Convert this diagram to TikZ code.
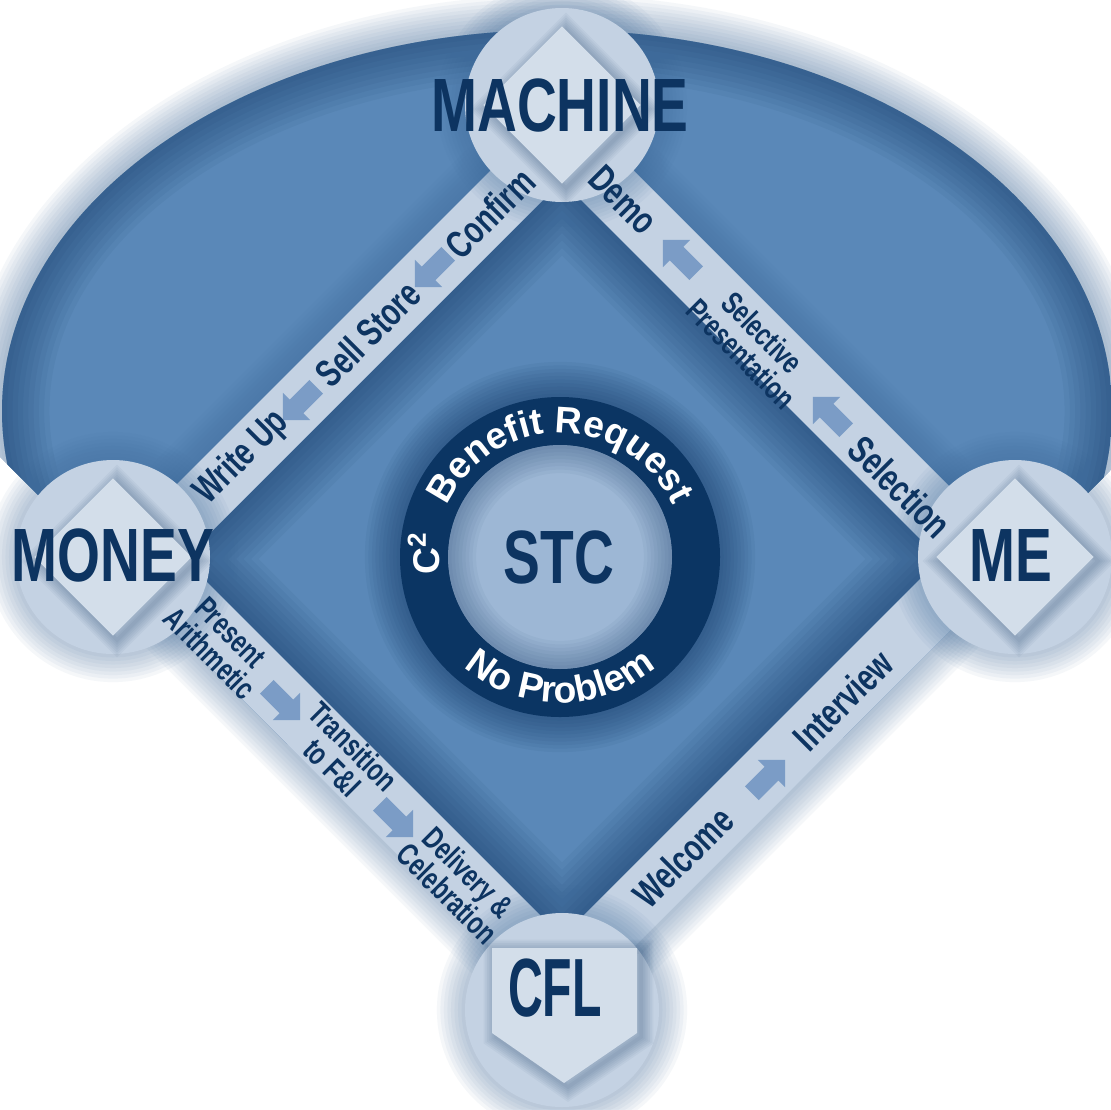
\documentclass[tikz,border=0pt]{standalone}
\usepackage{fontspec}
\setmainfont{Liberation Sans}
\newfontfamily\narrowfont[FakeStretch=0.73]{Liberation Sans}
\usepackage{tikz}
\usetikzlibrary{%
  shapes.arrows,% single arrow
  shapes.geometric,% diamond
  decorations.text% text round the ring
}

\definecolor{fieldblue}{HTML}{5A88B8}
\definecolor{navy}{HTML}{0D3461}
\definecolor{ringnavy}{HTML}{0B3563}
\definecolor{chalk}{HTML}{C4D2E3}
\definecolor{padgray}{HTML}{D3DEEA}
\definecolor{discblue}{HTML}{9DB7D5}
\definecolor{flowblue}{HTML}{7B9CC6}
\definecolor{hazeblue}{HTML}{3E6A9A}

\begin{document}
\begin{tikzpicture}[x=0.1mm, y=0.1mm,
    bigtext/.style={font=\narrowfont\bfseries\fontsize{21.5}{22}\selectfont, text=navy, inner sep=0pt},
    pathtext/.style={font=\narrowfont\bfseries\fontsize{11}{11}\selectfont, text=navy, inner sep=0pt},
    twotext/.style={font=\narrowfont\bfseries\fontsize{9}{8.5}\selectfont, text=navy, align=center, inner sep=0pt},
    flowarrow/.style={single arrow, fill=flowblue, inner sep=0.9mm, minimum height=4.7mm, single arrow head extend=0.95mm},
    basepad/.style={diamond, fill=padgray, minimum size=15.8mm, inner sep=0pt},
    haze/.style={draw=hazeblue, opacity=0.05, line width=#1},
    dusk/.style={draw=navy, opacity=0.045, line width=#1},
    deepdusk/.style={draw=navy, opacity=0.06, line width=#1}
  ]
  \useasboundingbox (0,0) rectangle (1111,1109);
  \fill[white] (0,0) rectangle (1111,1109);

  % base paths, outer and inner corners
  \coordinate (otop) at (562,1010);
  \coordinate (oright) at (1022,550);
  \coordinate (obot) at (562,90);
  \coordinate (oleft) at (102,550);
  \coordinate (itop) at (562,928);
  \coordinate (iright) at (940,550);
  \coordinate (ibot) at (562,172);
  \coordinate (ileft) at (184,550);
  % bases and mound
  \coordinate (machinepos) at (562,1004);
  \coordinate (mepos) at (1015,552);
  \coordinate (cflpos) at (562,99);
  \coordinate (moneypos) at (113,552);
  \coordinate (stcpos) at (560,552);

  % outfield, cut off at the foul lines
  \begin{scope}
    \clip (-200,852) -- (obot) -- (1324,852) -- (1324,1300) -- (-200,1300) -- cycle;
    \foreach \w in {2,4,...,20}
      \draw[haze=\w pt] (557,698) ellipse [x radius=555, y radius=381];
    \fill[fieldblue] (557,698) ellipse [x radius=555, y radius=381];
    \clip (557,698) ellipse [x radius=555, y radius=381];
    \foreach \w in {3,6,...,27}
      \draw[deepdusk=\w pt] (557,698) ellipse [x radius=555, y radius=381];
  \end{scope}

  % infield
  \fill[fieldblue] (itop) -- (iright) -- (ibot) -- (ileft) -- cycle;
  \begin{scope}
    \clip (itop) -- (iright) -- (ibot) -- (ileft) -- cycle;
    \foreach \w in {3,6,...,30}
      \draw[deepdusk=\w pt] (itop) -- (iright) -- (ibot) -- (ileft) -- cycle;
  \end{scope}

  % base paths
  \foreach \w in {2,4,...,18}
    \draw[haze=\w pt] (otop) -- (oright) -- (obot) -- (oleft) -- cycle;
  \fill[chalk, even odd rule] (otop) -- (oright) -- (obot) -- (oleft) -- cycle
    (itop) -- (iright) -- (ibot) -- (ileft) -- cycle;

  % bases
  \foreach \p in {machinepos, mepos, cflpos, moneypos}
    \foreach \w in {2,4,...,16}
      \draw[haze=\w pt] (\p) circle [radius=97];
  \foreach \p in {machinepos, mepos, cflpos, moneypos}
    \fill[chalk] (\p) circle [radius=97];
  \foreach \p in {machinepos, mepos, moneypos}
    \foreach \w in {1,2,...,7}
      \draw[dusk=\w pt] ([shift={(4,-4)}]\p) +(0,79) -- +(79,0) -- +(0,-79) -- +(-79,0) -- cycle;
  \node[basepad] (machinepad) at (machinepos) {};
  \node[basepad] (mepad) at (mepos) {};
  \node[basepad] (moneypad) at (moneypos) {};
  \foreach \w in {1,2,...,7}
    \draw[dusk=\w pt] (496,157) -- (641,157) -- (641,72) -- (568,22) -- (496,72) -- cycle;
  \fill[padgray] (492,161) -- (637,161) -- (637,76) -- (564,26) -- (492,76) -- cycle;

  % mound ring
  \foreach \w in {2,4,...,20}
    \draw[deepdusk=\w pt] (stcpos) circle [radius=160];
  \fill[ringnavy] (stcpos) circle [radius=160];
  \fill[discblue] (stcpos) circle [radius=112];
  \begin{scope}
    \clip (stcpos) circle [radius=112];
    \foreach \w in {2,4,...,16}
      \draw[dusk=\w pt] (stcpos) circle [radius=112];
  \end{scope}
  \path[decorate, decoration={text along path, text align=center,
      text={|\bfseries\fontsize{10.6}{12}\selectfont\color{white}|Benefit Request}}]
    (stcpos) ++(160:124) arc [start angle=160, end angle=20, radius=124];
  \path[decorate, decoration={text along path, text align=center,
      text={|\bfseries\fontsize{10.6}{12}\selectfont\color{white}|No Problem}}]
    (stcpos) ++(200:146) arc [start angle=200, end angle=340, radius=146];
  \node[font=\bfseries\fontsize{10.6}{12}\selectfont, text=white, rotate=90, inner sep=0pt] (csquare) at (424,556) {C\textsuperscript{2}};

  % flow arrows
  \node[flowarrow, rotate=225] (confirmflow) at (435,842) {};
  \node[flowarrow, rotate=225] (storeflow) at (303,709) {};
  \node[flowarrow, rotate=135] (selectflow) at (833,692) {};
  \node[flowarrow, rotate=135] (demoflow) at (683,849) {};
  \node[flowarrow, rotate=-45] (arithflow) at (280,409) {};
  \node[flowarrow, rotate=-45] (transflow) at (393,292) {};
  \node[flowarrow, rotate=45] (welcomeflow) at (765,329) {};

  % base names
  \node[bigtext] (machine) at (560,1004) {MACHINE};
  \node[bigtext] (money) at (113,554) {MONEY};
  \node[bigtext] (me) at (1011,554) {ME};
  \node[bigtext, xscale=0.8, font=\narrowfont\bfseries\fontsize{23.5}{24}\selectfont] (cfl) at (555,121) {CFL};
  \node[bigtext] (stc) at (559,552) {STC};

  % steps along the paths
  \node[pathtext, rotate=45] (writeup) at (242,651) {Write Up};
  \node[pathtext, rotate=45] (sellstore) at (368,775) {Sell Store};
  \node[pathtext, rotate=45] (confirm) at (490,896) {Confirm};
  \node[pathtext, rotate=-45] (demo) at (623,909) {Demo};
  \node[twotext, rotate=-45] (selective) at (752,766) {Selective\\Presentation};
  \node[pathtext, rotate=-45] (selection) at (900,622) {Selection};
  \node[twotext, rotate=-45] (present) at (220,466) {Present\\Arithmetic};
  \node[twotext, rotate=-45] (transition) at (343,352) {Transition\\to F\&I};
  \node[twotext, rotate=-45] (delivery) at (458,226) {Delivery \&\\Celebration};
  \node[pathtext, rotate=45] (welcome) at (683,252) {Welcome};
  \node[pathtext, rotate=45] (interview) at (843,409) {Interview};
\end{tikzpicture}
\end{document}
